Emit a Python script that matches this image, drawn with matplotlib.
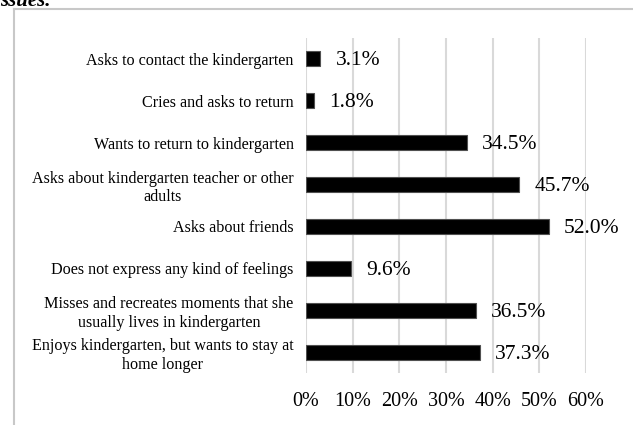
import matplotlib
matplotlib.use("Agg")
import matplotlib.pyplot as plt
from matplotlib.lines import Line2D

categories = [
    "Asks to contact the kindergarten",
    "Cries and asks to return",
    "Wants to return to kindergarten",
    "Asks about kindergarten teacher or other\nadults",
    "Asks about friends",
    "Does not express any kind of feelings",
    "Misses and recreates moments that she\nusually lives in kindergarten",
    "Enjoys kindergarten, but wants to stay at\nhome longer",
]
values = [3.1, 1.8, 34.5, 45.7, 52.0, 9.6, 36.5, 37.3]
x_ticks = [0, 10, 20, 30, 40, 50, 60]
x_tick_labels = [f"{t}%" for t in x_ticks]

W, H = 633, 425
plt.rcParams["font.family"] = ["Liberation Serif", "DejaVu Serif"]

fig = plt.figure(figsize=(W / 100, H / 100), dpi=100)

# frame of the chart area
fig.add_artist(Line2D([14 / W, 1.0], [1 - 9 / H, 1 - 9 / H], color="#c8c8c8", lw=1.5))
fig.add_artist(Line2D([14 / W, 14 / W], [0, 1 - 9 / H], color="#c8c8c8", lw=1.5))
# tail of the preceding paragraph
fig.text(0, 1 - 6 / H, "ssues.", fontsize=15, style="italic", fontweight="bold",
         ha="left", va="baseline")

ax = fig.add_axes([306 / W, 52 / H, 280 / W, 335 / H])
ypos = list(range(len(categories)))
ax.barh(ypos, values, height=0.36, color="black", edgecolor="#505050", linewidth=0.8, zorder=3)
ax.set_ylim(len(categories) - 0.5, -0.5)
ax.set_xlim(0, 60)
ax.set_xticks(x_ticks)
ax.set_xticklabels(x_tick_labels, fontsize=14.5)
ax.set_yticks(ypos)
ax.set_yticklabels(categories, fontsize=11.6, multialignment="center", linespacing=1.22)
ax.tick_params(axis="both", length=0, colors="black")
ax.tick_params(axis="x", pad=14)
ax.tick_params(axis="y", pad=9)
for s in ax.spines.values():
    s.set_visible(False)
ax.grid(axis="x", color="#d9d9d9", lw=1.5, zorder=0)
ax.set_axisbelow(True)

for y, v in zip(ypos, values):
    ax.annotate(f"{v:.1f}%", xy=(v, y), xytext=(15, -2), textcoords="offset pixels",
                ha="left", va="center", fontsize=15.5)

fig.savefig("out.png", dpi=100)
